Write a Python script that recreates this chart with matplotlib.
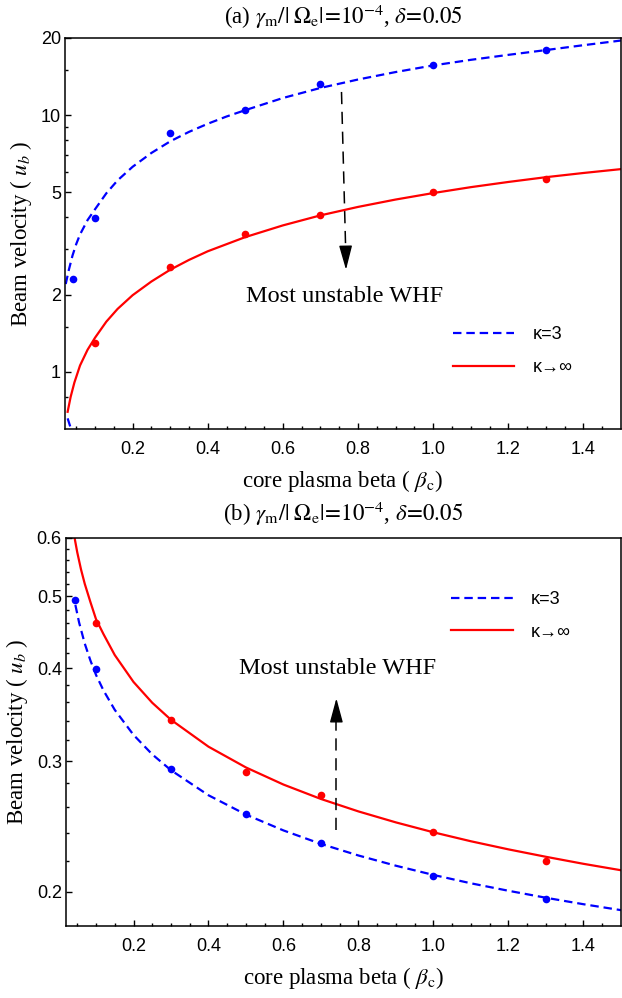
import matplotlib
matplotlib.use("Agg")
import matplotlib.pyplot as plt
from matplotlib.ticker import NullFormatter

plt.rcParams["font.family"] = ["Liberation Serif", "DejaVu Serif"]
plt.rcParams["mathtext.fontset"] = "stix"

# panel (a): simulation dots and fitted curves
beta_dots_a = [0.04, 0.1, 0.3, 0.5, 0.7, 1.0, 1.3]
kappa3_dots_a = [2.30, 3.96, 8.53, 10.5, 13.2, 15.6, 17.9]
beta_maxw_dots_a = [0.1, 0.3, 0.5, 0.7, 1.0, 1.3]
maxw_dots_a = [1.30, 2.56, 3.44, 4.08, 5.03, 5.62]

beta_k3_fit_a = [0.022, 0.03, 0.04, 0.05, 0.06, 0.08, 0.1, 0.13, 0.16, 0.2, 0.25,
                 0.3, 0.35, 0.4, 0.45, 0.5, 0.6, 0.7, 0.8, 0.9, 1.0, 1.1, 1.2,
                 1.3, 1.4, 1.5]
k3_fit_a = [2.2, 2.49, 2.84, 3.15, 3.43, 3.90, 4.30, 4.96, 5.57, 6.29, 7.12,
            7.9, 8.6, 9.25, 9.87, 10.45, 11.65, 12.75, 13.75, 14.7, 15.6, 16.4, 17.15,
            17.9, 18.7, 19.5]
beta_k3_tail_a = [0.027, 0.036]
k3_tail_a = [0.66, 0.6]

beta_maxw_fit_a = [0.027, 0.035, 0.045, 0.06, 0.08, 0.1, 0.13, 0.16, 0.2, 0.25, 0.3,
                   0.35, 0.4, 0.5, 0.6, 0.7, 0.8, 0.9, 1.0, 1.1, 1.2, 1.3, 1.4, 1.5]
maxw_fit_a = [0.70, 0.80, 0.91, 1.06, 1.22, 1.36, 1.57, 1.76, 1.99, 2.25, 2.50,
              2.73, 2.95, 3.35, 3.72, 4.07, 4.39, 4.69, 4.97, 5.24, 5.49, 5.73, 5.95, 6.16]

# panel (b)
beta_dots_b = [0.045, 0.1, 0.3, 0.5, 0.7, 1.0, 1.3]
kappa3_dots_b = [0.494, 0.399, 0.2926, 0.2547, 0.2323, 0.210, 0.1954]
beta_maxw_dots_b = [0.1, 0.3, 0.5, 0.7, 1.0, 1.3]
maxw_dots_b = [0.460, 0.3406, 0.290, 0.270, 0.2405, 0.2203]

beta_k3_fit_b = [0.045, 0.055, 0.07, 0.085, 0.1, 0.12, 0.15, 0.2, 0.25, 0.3, 0.4,
                 0.5, 0.6, 0.7, 0.8, 0.9, 1.0, 1.1, 1.2, 1.3, 1.4, 1.5]
k3_fit_b = [0.487, 0.461, 0.432, 0.410, 0.392, 0.3735, 0.3517, 0.3254, 0.3063, 0.2916, 0.2698,
            0.2541, 0.2419, 0.232, 0.2238, 0.2168, 0.2107, 0.2053, 0.2006, 0.1963, 0.1924, 0.1889]

beta_maxw_fit_b = [0.042, 0.05, 0.06, 0.07, 0.085, 0.1, 0.12, 0.15, 0.2, 0.25, 0.3,
                   0.4, 0.5, 0.6, 0.7, 0.8, 0.9, 1.0, 1.1, 1.2, 1.3, 1.4, 1.5]
maxw_fit_b = [0.603, 0.5734, 0.5438, 0.520, 0.4916, 0.466, 0.4448, 0.4169, 0.3835, 0.3595, 0.341,
              0.3137, 0.2941, 0.2789, 0.2667, 0.2566, 0.248, 0.2405, 0.2339, 0.2281, 0.2229,
              0.2181, 0.2138]

xticks = [0.2, 0.4, 0.6, 0.8, 1.0, 1.2, 1.4]
xminor = [0.05, 0.1, 0.15, 0.25, 0.3, 0.35, 0.45, 0.5, 0.55, 0.65, 0.7, 0.75, 0.85,
          0.9, 0.95, 1.05, 1.1, 1.15, 1.25, 1.3, 1.35, 1.45]
yticks_a = [1, 2, 5, 10, 20]
yminor_a = [0.8, 1.5, 3, 4, 6, 7, 8, 9, 15]
yticks_b = [0.2, 0.3, 0.4, 0.5, 0.6]
yminor_b = [0.22, 0.24, 0.26, 0.28, 0.32, 0.34, 0.36, 0.38, 0.42, 0.44, 0.46,
            0.48, 0.52, 0.54, 0.56, 0.58]

BLUE = "#0000ff"
RED = "#ff0000"
SANS = "Liberation Sans"
TITLE = r"$\gamma_{\rm m}/|\;\Omega_{\rm e}|\!=\!10^{-4}$, $\delta\!=\!0.05$"


def style_axes(ax, yticks, ylabels, yminor, ylim):
    ax.set_yscale("log")
    ax.set_xlim(0.02, 1.5)
    ax.set_ylim(*ylim)
    ax.set_xticks(xticks, [f"{v:.1f}" for v in xticks])
    ax.set_xticks(xminor, minor=True)
    ax.set_yticks(yticks, ylabels)
    ax.set_yticks(yminor, minor=True)
    ax.yaxis.set_minor_formatter(NullFormatter())
    ax.tick_params(which="both", direction="in", top=False, right=False, width=1.0)
    ax.tick_params(which="major", length=4.5)
    ax.tick_params(which="minor", length=2.5)
    ax.tick_params(axis="x", pad=9)
    ax.tick_params(axis="y", pad=3)
    for lbl in ax.get_xticklabels() + ax.get_yticklabels():
        lbl.set_fontfamily(SANS)
        lbl.set_fontsize(13)
    for sp in ax.spines.values():
        sp.set_linewidth(1.1)
    ax.set_xlabel(r"core plasma beta ( $\beta_{\rm c}$)", fontsize=16.5, labelpad=7)
    ax.set_ylabel(r"Beam velocity ( $u_b$ )", fontsize=16.5, labelpad=5)


def draw_series(ax, bx, by, bfx, bfy, rx, ry, rfx, rfy):
    ax.plot(bfx, bfy, color=BLUE, lw=1.6, dashes=(3.8, 2.2), label="κ=3")
    ax.plot(rfx, rfy, color=RED, lw=1.6, label="κ→∞")
    ax.plot(bx, by, "o", color=BLUE, ms=5.5, mec="none")
    ax.plot(rx, ry, "o", color=RED, ms=5.5, mec="none")


def arrow(ax, start, head_base, tip):
    ax.plot([start[0], head_base[0]], [start[1], head_base[1]], color="black", lw=1.1,
            dashes=(8, 5))
    ax.annotate("", xy=tip, xytext=head_base,
                arrowprops=dict(arrowstyle="-|>,head_length=1.0,head_width=0.27",
                                lw=1.0, color="black", mutation_scale=15,
                                shrinkA=0, shrinkB=0))


fig = plt.figure(figsize=(6.22, 9.98), dpi=100)

ax1 = fig.add_axes([65 / 622, 1 - 429 / 998, 556 / 622, 391.3 / 998])
draw_series(ax1, beta_dots_a, kappa3_dots_a, beta_k3_fit_a, k3_fit_a,
            beta_maxw_dots_a, maxw_dots_a, beta_maxw_fit_a, maxw_fit_a)
ax1.plot(beta_k3_tail_a, k3_tail_a, color=BLUE, lw=1.6, dashes=(3.8, 2.2))
style_axes(ax1, yticks_a, [str(v) for v in yticks_a], yminor_a, (0.6, 20))
ax1.set_title("(a) " + TITLE, fontsize=16.5, pad=10)
arrow(ax1, (0.756, 12.3), (0.767, 3.04), (0.768, 2.5))
ax1.text(0.765, 1.96, "Most unstable WHF", fontsize=17.5, ha="center", va="center")
ax1.legend(loc="upper left", bbox_to_anchor=(0.698, 0.262), frameon=False,
           prop=dict(family=SANS, size=13), handlelength=3.4, handletextpad=1.0,
           labelspacing=0.85, borderpad=0, borderaxespad=0)

ax2 = fig.add_axes([66 / 622, 1 - 925.7 / 998, 555 / 622, 388 / 998])
draw_series(ax2, beta_dots_b, kappa3_dots_b, beta_k3_fit_b, k3_fit_b,
            beta_maxw_dots_b, maxw_dots_b, beta_maxw_fit_b, maxw_fit_b)
style_axes(ax2, yticks_b, [f"{v:.1f}" for v in yticks_b], yminor_b, (0.18, 0.6))
ax2.set_title("(b) " + TITLE, fontsize=16.5, pad=12)
arrow(ax2, (0.741, 0.242), (0.741, 0.3404), (0.741, 0.3645))
ax2.text(0.743, 0.40, "Most unstable WHF", fontsize=17.5, ha="center", va="center")
ax2.legend(loc="upper left", bbox_to_anchor=(0.694, 0.862), frameon=False,
           prop=dict(family=SANS, size=13), handlelength=3.4, handletextpad=1.0,
           labelspacing=0.85, borderpad=0, borderaxespad=0)

fig.savefig("out.png", dpi=100)
